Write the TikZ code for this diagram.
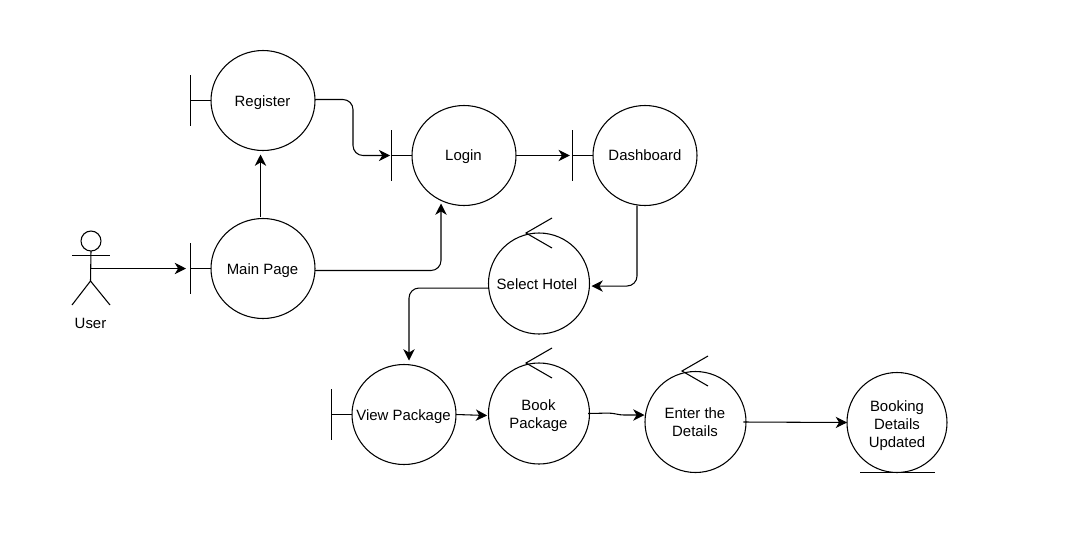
\documentclass[tikz,border=0pt]{standalone}
\usepackage{fontspec}
\setmainfont{Liberation Sans}
\usetikzlibrary{shapes.geometric,arrows.meta}
\tikzset{
  obj/.style={draw=black,shape=ellipse,line width=0.8pt,inner sep=0pt,outer sep=0pt,
    minimum width=78pt,minimum height=75pt},
  objn/.style={obj,minimum width=75.75pt,minimum height=75.75pt},
  part/.style={draw=black,line width=0.8pt},
  conn/.style={draw=black,line width=0.8pt,rounded corners=7.5pt,-{Stealth[length=8.5pt,width=8.5pt,inset=2.6pt]}},
  lbl/.style={font=\fontsize{11.2}{13.5}\selectfont,inner sep=0pt,align=center}
}
\begin{document}
\begin{tikzpicture}[x=0.75pt,y=-0.75pt]
\useasboundingbox (0,0) rectangle (1079,540);
\fill[white] (0,0) rectangle (1079,540);
% objects
\node[obj]  (reg)  at (263,100.5) {};
\node[obj]  (main) at (263,268.5) {};
\node[obj]  (login) at (464,155.5) {};
\node[obj]  (dash) at (645,155.5) {};
\node[objn] (sel)  at (539,283.5) {};
\node[obj]  (view) at (404,414.5) {};
\node[objn] (book) at (539,413.5) {};
\node[objn] (enter) at (695.5,422) {};
\node[obj,minimum width=75pt] (upd) at (897,422.5) {};
% labels
\node[lbl] (treg) at (262.5,103) {Register};
\node[lbl] (tmain) at (262.5,270.5) {Main Page};
\node[lbl] (tlogin) at (463.5,157) {Login};
\node[lbl] (tdash) at (645,155) {Dashboard};
\node[lbl] (tsel) at (537,284) {Select Hotel};
\node[lbl] (tview) at (403.5,417) {View Package};
\node[lbl] (tbook) at (538.5,416) {Book\\Package};
\node[lbl] (tenter) at (695,422) {Enter the\\Details};
\node[lbl] (tupd) at (897,426) {Booking\\Details\\Updated};
\node[lbl] (ulbl) at (90.5,323.5) {User};
% boundary bars
\foreach \n in {reg,main,login,dash,view}{
  \draw[part] (\n.west) -- ++(-20.5,0) coordinate (b\n);
  \draw[part] ([yshift=-19pt]b\n) -- ([yshift=19pt]b\n);
}
% control hooks
\draw[part] (552,218) -- (526,233) -- (552,248);
\draw[part] (552,348) -- (526,363) -- (552,378);
\draw[part] (708,356) -- (682,371) -- (708,386);
% entity underline
\draw[part] (860,472.5) -- (935,472.5);
% actor
\node[draw=black,circle,line width=0.8pt,minimum size=15pt,inner sep=0pt,outer sep=0pt] (head) at (91,241) {};
\coordinate (hip) at (90.5,281);
\coordinate (hand) at (90.5,268.5);
\draw[part] (head.south) -- (hip);
\draw[part] (72,255.5) -- (110,255.5);
\draw[part] (72,305) -- (hip) -- (110,305);
% connectors
\draw[conn] (hand) -- (186,268.5);
\draw[conn] (main.north -| 260.5,0) ++(0,-2) -- ([yshift=-3pt]reg.south -| 260.5,0);
\draw[conn] ([yshift=0.75pt]reg.east) -- ++(38,0) |- ([xshift=-1pt]blogin);
\draw[conn] ([yshift=-1.5pt]main.east) -| ([yshift=1.5pt]login.south -| 441,0);
\draw[conn] (login.east) -- ([xshift=-2pt]bdash);
\draw[conn] (dash.south -| 637,0) |- ([xshift=1.5pt,yshift=-1.9pt]sel.east);
\draw[conn] ([yshift=-3.4pt]sel.west) -| ([yshift=3pt]view.north -| 409,0);
\draw[conn] (view.east) -- ([xshift=-1pt,yshift=-1.5pt]book.west);
\draw[conn,rounded corners=3pt] ([xshift=-1pt]book.east) -- (612,413) -- (620,415) -- (644.5,415);
\draw[conn] ([xshift=-2pt]enter.east) -- (upd.west);
\end{tikzpicture}
\end{document}
